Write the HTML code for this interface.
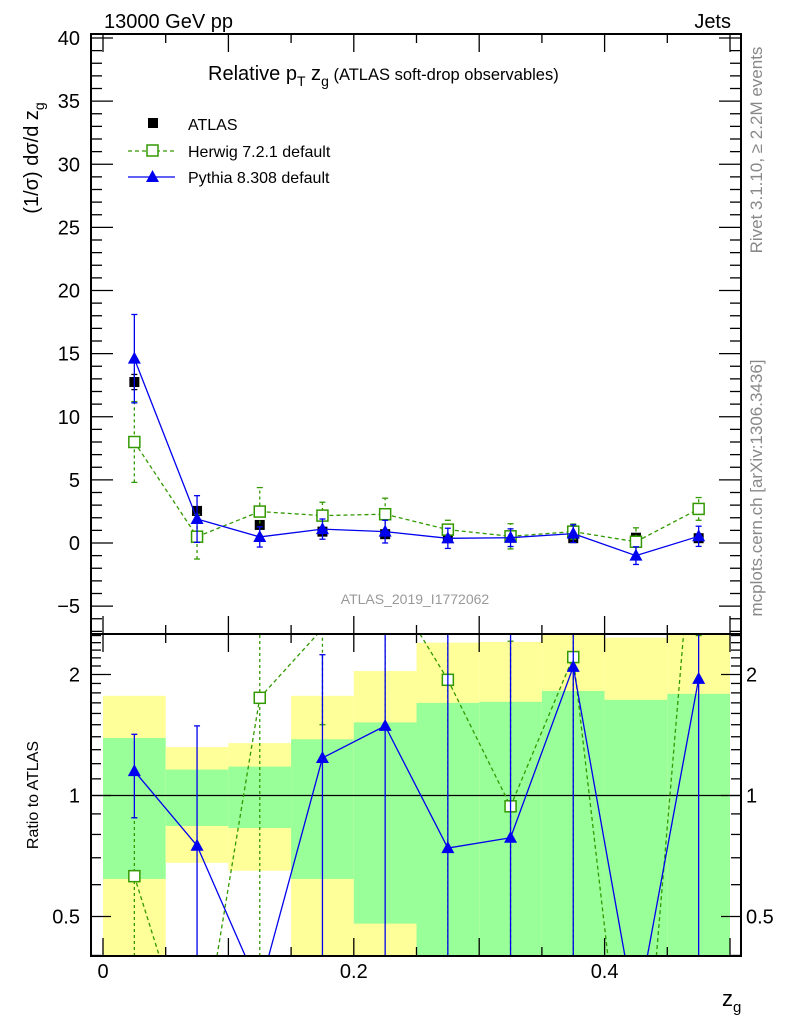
<!DOCTYPE html>
<html><head><meta charset="utf-8"><style>
html,body{margin:0;padding:0;background:#fff;overflow:hidden;width:786px;height:1024px;}
svg{display:block;font-family:"Liberation Sans",Arial,sans-serif;}
</style></head><body>
<svg id="chart" width="786" height="1024" viewBox="0 0 786 1024" xmlns="http://www.w3.org/2000/svg">
<text x="104" y="28" font-size="20">13000 GeV pp</text>
<text x="731" y="28" font-size="20" text-anchor="end">Jets</text>
<text x="208" y="80" font-size="20">Relative p<tspan font-size="14" dy="6">T</tspan><tspan dy="-6"> z</tspan><tspan font-size="14" dy="6">g</tspan><tspan dy="-6" font-size="16.5"> (ATLAS soft-drop observables)</tspan></text>
<text transform="translate(38,158) rotate(-90)" font-size="20" text-anchor="middle">(1/σ) dσ/d z<tspan font-size="14" dy="6">g</tspan></text>
<text transform="translate(38,795) rotate(-90)" font-size="16" text-anchor="middle">Ratio to ATLAS</text>
<text transform="translate(762,150) rotate(-90)" font-size="17" fill="#888" text-anchor="middle">Rivet 3.1.10, ≥ 2.2M events</text>
<text transform="translate(762,488) rotate(-90)" font-size="17" fill="#888" text-anchor="middle">mcplots.cern.ch [arXiv:1306.3436]</text>
<text x="415" y="604" font-size="14" fill="#999" text-anchor="middle">ATLAS_2019_I1772062</text>
<text x="722" y="1006" font-size="22">z<tspan font-size="15" dy="6">g</tspan></text>
<g id="bands"></g><g id="marks"></g><g id="axes"></g>
<g>
 <rect x="148" y="118" width="10" height="10" fill="#000"/>
 <text x="188" y="130" font-size="16">ATLAS</text>
 <line x1="128" y1="151" x2="175" y2="151" stroke="#339900" stroke-width="1.3" stroke-dasharray="4,3"/>
 <rect x="147" y="145" width="11" height="11" fill="#fff" stroke="#339900" stroke-width="1.5"/>
 <text x="188" y="157" font-size="16">Herwig 7.2.1 default</text>
 <line x1="128" y1="177" x2="175" y2="177" stroke="#0000ee" stroke-width="1.3"/>
 <polygon points="152.5,170 146,182 159,182" fill="#0000ee"/>
 <text x="188" y="183" font-size="16">Pythia 8.308 default</text>
</g>
</svg>
<script>
const binCenters=[0.025,0.075,0.125,0.175,0.225,0.275,0.325,0.375,0.425,0.475];
const atlasVals=[12.75,2.54,1.43,0.9,0.7,0.58,0.42,0.38,0.42,0.38];
const atlasErr=[0.6,0.3,0.2,0.15,0.15,0.1,0.1,0.1,0.1,0.1];
const herwigVals=[8.0,0.5,2.49,2.17,2.28,1.06,0.53,0.9,0.1,2.7];
const herwigErr=[3.2,1.77,1.9,1.06,1.27,0.74,1.0,0.6,1.1,0.9];
const pythiaVals=[14.6,1.9,0.48,1.1,0.9,0.37,0.42,0.74,-1.0,0.53];
const pythiaErr=[3.5,1.85,0.8,0.8,0.9,0.8,0.7,0.7,0.7,0.8];
const ratioHerwig=[0.63,0.2,1.75,2.6,3.5,1.94,0.94,2.21,0.1,7.0];
const ratioHerwigLo=[0.3,0.2,0.3,1.5,1.5,0.3,0.3,0.3,0.1,2.5];
const ratioHerwigHi=[0.88,0.2,3,3,3,3,2.42,3,0.1,9];
const ratioPythia=[1.15,0.75,0.33,1.24,1.49,0.74,0.785,2.09,0.28,1.95];
const ratioPythiaLo=[0.88,0.3,0.33,0.3,0.3,0.3,0.3,0.3,0.28,0.3];
const ratioPythiaHi=[1.42,1.49,0.33,2.24,3,3,3,3,0.28,3];
const band1Lo=[0.62,0.84,0.83,0.62,0.48,0.3,0.3,0.3,0.3,0.3];
const band1Hi=[1.39,1.16,1.18,1.38,1.52,1.70,1.71,1.82,1.73,1.79];
const band2Lo=[0.3,0.68,0.65,0.3,0.3,0.3,0.3,0.3,0.3,0.3];
const band2Hi=[1.77,1.32,1.35,1.77,2.04,2.40,2.41,3,2.47,3];
const yTicks=[-5,0,5,10,15,20,25,30,35,40];
const xTicks=[0,0.2,0.4];
const rTicks=[0.5,1,2];

const NS="http://www.w3.org/2000/svg";
const L=91,R=741,MT=34,MB=634,RT=634,RB=956;
const X=v=>103+v*1254;
const Y=v=>543-v*12.625;
const RY=v=>795.5-Math.log2(v)*121;
function mk(tag,attrs,parent){const e=document.createElementNS(NS,tag);for(const k in attrs)e.setAttribute(k,attrs[k]);parent.appendChild(e);return e;}
const bands=document.getElementById('bands'),marks=document.getElementById('marks'),axes=document.getElementById('axes');
const cl=v=>Math.max(RT,Math.min(RB,v));
binCenters.forEach((c,i)=>{
 const x0=X(c-0.025),x1=X(c+0.025);
 const r2=mk('rect',{x:x0,y:cl(RY(band2Hi[i])),width:x1-x0,height:cl(RY(band2Lo[i]))-cl(RY(band2Hi[i])),fill:'#ffff99'},bands);
 
 
 const r1=mk('rect',{x:x0,y:cl(RY(band1Hi[i])),width:x1-x0,height:cl(RY(band1Lo[i]))-cl(RY(band1Hi[i])),fill:'#99ff99'},bands);
 
 
});
mk('line',{x1:L,x2:R,y1:RY(1),y2:RY(1),stroke:'#000','stroke-width':1.2},bands);
// clip segment in y to [t,b]
function clipSeg(x1,y1,x2,y2,t,b){
 let u0=0,u1=1;const dy=y2-y1;
 if(dy===0){if(y1<t||y1>b)return null;}
 else{
  let ua=(t-y1)/dy,ub=(b-y1)/dy;if(ua>ub){const s=ua;ua=ub;ub=s;}
  u0=Math.max(u0,ua);u1=Math.min(u1,ub);if(u0>u1)return null;
 }
 return [x1+(x2-x1)*u0,y1+dy*u0,x1+(x2-x1)*u1,y1+dy*u1];
}
function series(g,yf,t,b,vals,lo,hi,color,dash,kind,name,noLine){
 if(!noLine){
  for(let i=0;i<binCenters.length-1;i++){
   const s=clipSeg(X(binCenters[i]),yf(vals[i]),X(binCenters[i+1]),yf(vals[i+1]),t,b);
   if(!s)continue;
   const ln=mk('line',{x1:s[0],y1:s[1],x2:s[2],y2:s[3],stroke:color,'stroke-width':1.3},g);
   if(dash)ln.setAttribute('stroke-dasharray','4,3');
   
   
  }
 }
 const c=v=>Math.max(t,Math.min(b,v));
 binCenters.forEach((cc,i)=>{
  const x=X(cc),y=yf(vals[i]);
  if(hi[i]!==lo[i]){
   const y1=c(yf(lo[i])),y2=c(yf(hi[i]));
   if(y1!==y2){
    const eb=mk('line',{x1:x,x2:x,y1:y1,y2:y2,stroke:color,'stroke-width':1.3},g);
    if(dash)eb.setAttribute('stroke-dasharray','3,3');
    
    
    [yf(lo[i]),yf(hi[i])].forEach(v=>{if(v>t&&v<b)mk('line',{x1:x-3,x2:x+3,y1:v,y2:v,stroke:color,'stroke-width':1.3},g);});
   }
  }
  if(y<t||y>b)return;
  let m;
  if(kind==='sq')m=mk('rect',{x:x-5.5,y:y-5.5,width:11,height:11,fill:'#fff',stroke:color,'stroke-width':1.5},g);
  else if(kind==='fsq')m=mk('rect',{x:x-5,y:y-5,width:10,height:10,fill:color},g);
  else m=mk('polygon',{points:`${x},${y-7} ${x-6.5},${y+5} ${x+6.5},${y+5}`,fill:color},g);
  
  
 });
}
series(marks,Y,MT,MB,atlasVals,atlasVals.map((v,i)=>v-atlasErr[i]),atlasVals.map((v,i)=>v+atlasErr[i]),'#000',false,'fsq','atlas',true);
series(marks,Y,MT,MB,herwigVals,herwigVals.map((v,i)=>v-herwigErr[i]),herwigVals.map((v,i)=>v+herwigErr[i]),'#339900',true,'sq','herwig');
series(marks,Y,MT,MB,pythiaVals,pythiaVals.map((v,i)=>v-pythiaErr[i]),pythiaVals.map((v,i)=>v+pythiaErr[i]),'#0000ee',false,'tri','pythia');
series(marks,RY,RT,RB,ratioHerwig,ratioHerwigLo,ratioHerwigHi,'#339900',true,'sq','ratio-herwig');
series(marks,RY,RT,RB,ratioPythia,ratioPythiaLo,ratioPythiaHi,'#0000ee',false,'tri','ratio-pythia');
const f1=mk('rect',{x:L,y:MT,width:R-L,height:MB-MT,fill:'none',stroke:'#000','stroke-width':2},axes);

const f2=mk('rect',{x:L,y:RT,width:R-L,height:RB-RT,fill:'none',stroke:'#000','stroke-width':2},axes);

function tk(x1,y1,x2,y2){mk('line',{x1,y1,x2,y2,stroke:'#000','stroke-width':1.3},axes);}
for(let v=-7;v<=40;v++){const y=Y(v);if(y<MT||y>MB)continue;const len=v%5===0?22:11;tk(L,y,L+len,y);tk(R,y,R-len,y);}
yTicks.forEach(v=>{const t=mk('text',{x:80,y:Y(v)+7,'font-size':20,'text-anchor':'end'},axes);t.textContent=v<0?'−'+(-v):v;
 });
for(let k=0;k<=10;k++){const v=k*0.05,x=X(v);const len=k%2===0?18:9;
 tk(x,MB,x,MB-len);tk(x,MT,x,MT+len);tk(x,RB,x,RB-len);tk(x,RT,x,RT+len);}
xTicks.forEach(v=>{const t=mk('text',{x:X(v),y:978,'font-size':20,'text-anchor':'middle'},axes);t.textContent=v;
 });
for(let k=4;k<=25;k++){const v=k/10,y=RY(v);if(y<RT||y>RB)continue;const len=(k===5||k===10||k===20)?20:10;tk(L,y,L+len,y);tk(R,y,R-len,y);}
rTicks.forEach(v=>{
 const t=mk('text',{x:80,y:RY(v)+7,'font-size':20,'text-anchor':'end'},axes);t.textContent=v;
 
 const t2=mk('text',{x:746,y:RY(v)+7,'font-size':20},axes);t2.textContent=v;
 });
</script>
</body></html>
